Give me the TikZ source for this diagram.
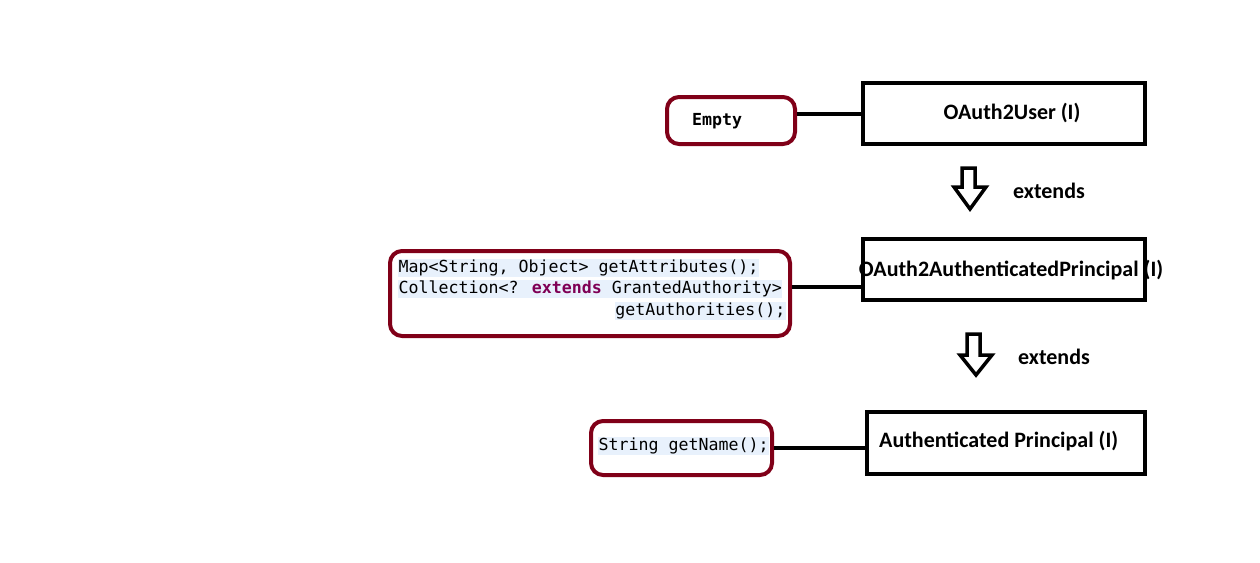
\documentclass[tikz,border=0pt]{standalone}
\usepackage{fontspec}
\setmainfont{Carlito}
\newfontfamily\codefont{DejaVu Sans Mono}
\definecolor{wine}{HTML}{800018}
\definecolor{hl}{HTML}{E8F1FC}
\definecolor{kw}{HTML}{7F0055}
\begin{document}
\begin{tikzpicture}[x=1pt,y=-1pt,
  classbox/.style={draw=black,line width=4pt,inner sep=0pt},
  notebox/.style={draw=wine,line width=4pt,rounded corners=12pt,inner sep=0pt},
  link/.style={draw=black,line width=4pt},
  bigarrow/.style={draw=black,line width=3.5pt,fill=white,line join=miter},
  lbl/.style={font=\bfseries\fontsize{22}{26}\selectfont,inner sep=0pt},
  code/.style={font=\codefont\fontsize{16.6}{19}\selectfont,inner sep=0.5pt,fill=hl,anchor=west}]
\useasboundingbox (0,0) rectangle (1260,562);

% class boxes
\node[classbox,minimum width=282pt,minimum height=61pt] (u) at (1004,113.5) {};
\node[lbl] (ut) at (1012,113) {OAuth2User (I)};
\node[classbox,minimum width=282pt,minimum height=61pt] (p) at (1004,269.5) {};
\node[lbl] (pt) at (1011,270) {OAuth2AuthenticatedPrincipal (I)};
\node[classbox,minimum width=278pt,minimum height=62pt] (a) at (1006,443) {};
\node[lbl,anchor=west] (at) at (879,441) {Authenticated Principal (I)};

% note boxes
\node[notebox,minimum width=128pt,minimum height=47pt] (e) at (731,120.5) {};
\node[font=\codefont\bfseries\fontsize{16.6}{19}\selectfont,inner sep=0pt,anchor=west] (et) at (692,121) {Empty};

\node[notebox,minimum width=400pt,minimum height=85pt] (c) at (590,293.5) {};
\node[code] (c1) at (398,268) {Map<String, Object> getAttributes();};
\node[code] (c2) at (398,289) {Collection<? {\bfseries\color{kw}extends} GrantedAuthority>};
\node[code,anchor=east] (c3) at (786,311) {getAuthorities();};

\node[notebox,minimum width=181pt,minimum height=54pt] (g) at (681.5,448) {};
\node[code] (gt) at (598,446) {String getName();};

% connectors
\draw[link] (e.east |- u.west) -- (u.west);
\draw[link] (c.east |- 0,287) -- (p.west |- 0,287);
\draw[link] (g.east) -- (a.west |- g.east);

% extends arrows
\draw[bigarrow] (962,168) -- (975,168) -- (975,187) -- (986,187) -- (970,209) -- (954,187) -- (962,187) -- cycle;
\node[lbl,anchor=west] (x1) at (1013,191) {extends};
\draw[bigarrow] (967,334) -- (980,334) -- (980,355) -- (992,355) -- (976,375) -- (960,355) -- (967,355) -- cycle;
\node[lbl,anchor=west] (x2) at (1018,357) {extends};
\end{tikzpicture}
\end{document}
